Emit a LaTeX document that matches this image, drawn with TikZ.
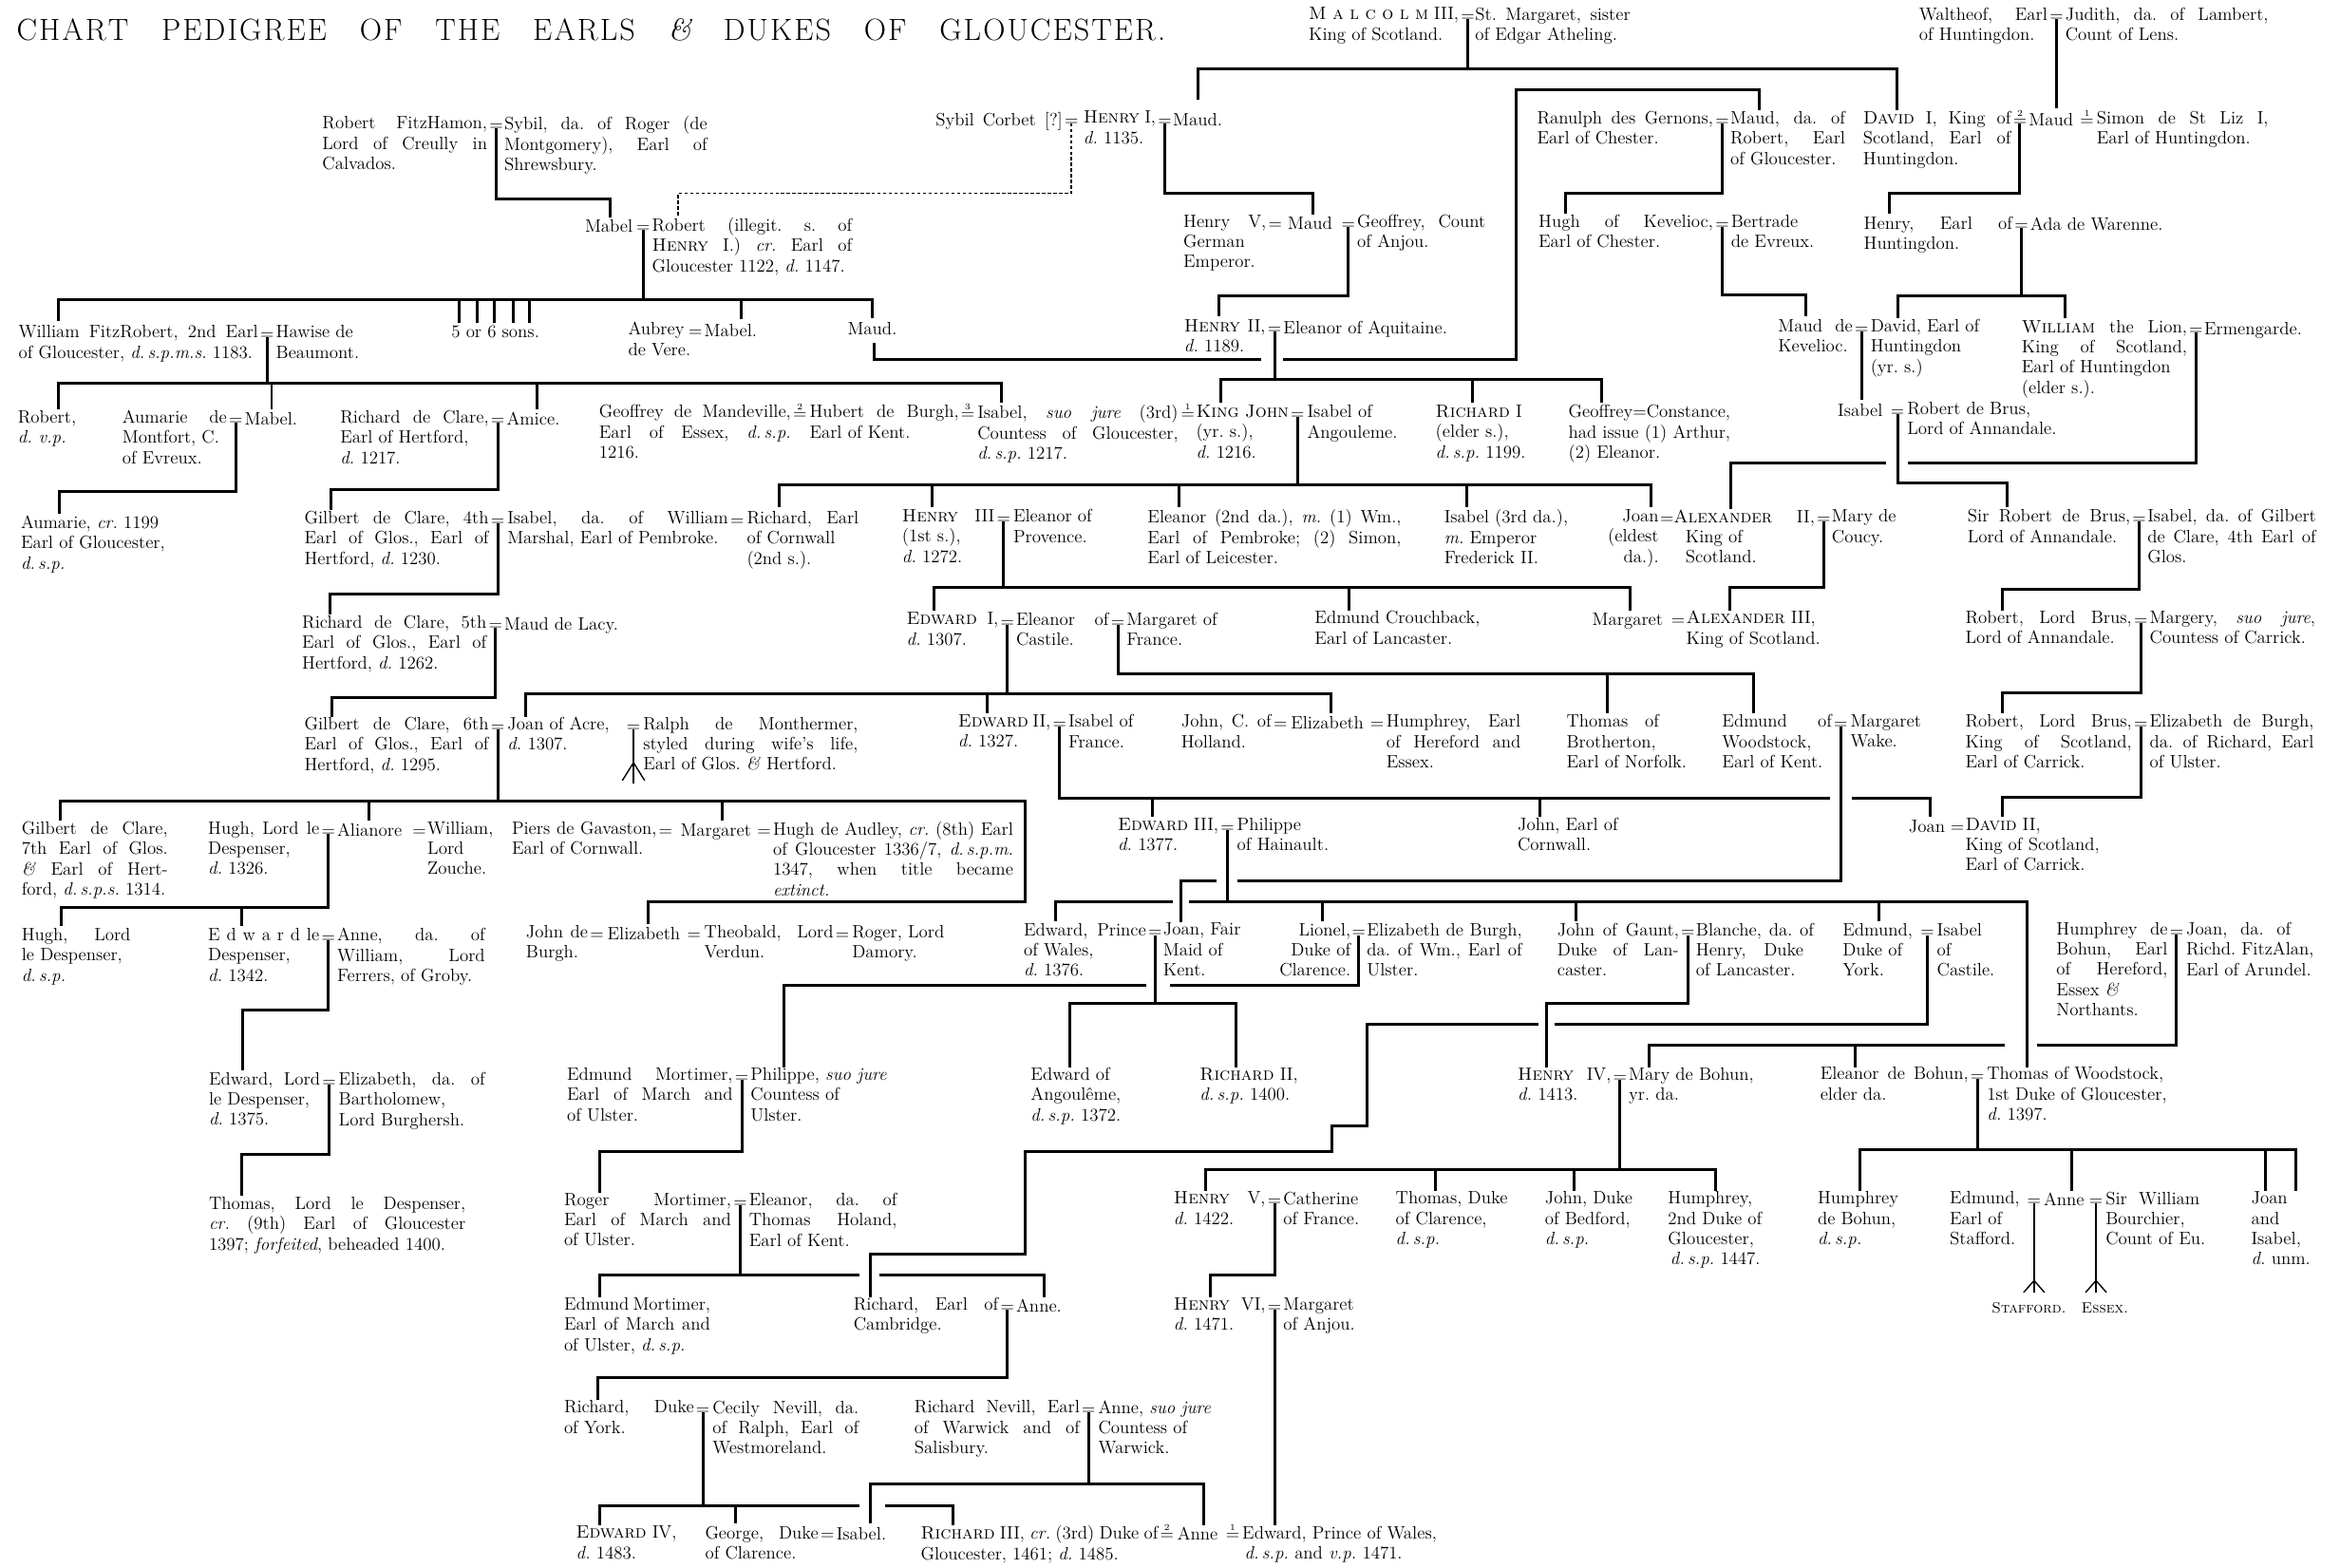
\documentclass[tikz,border=0pt]{standalone}
\newcommand\fs{\fontsize{12}{13.6}\selectfont\frenchspacing}
\newcommand\J[2]{\hbox to #1pt{#2}}
\newcommand\numeq[1]{$\smash{\stackrel{\scriptscriptstyle #1}{=}}$}
\ExplSyntaxOn
\NewDocumentCommand\spaceout{m}{\tl_map_inline:nn{#1}{##1\kern1.3pt}}
\ExplSyntaxOff
\tikzset{
 tx/.style={font=\fs, align=left, inner sep=0pt, outer sep=0pt, anchor=north west, yshift=9.52pt, execute at begin node={\strut}},
 txr/.style={tx, anchor=north east, align=right},
 eq/.style={font=\fs, inner sep=0pt, outer sep=0pt, anchor=base},
 ln/.style={line width=1.9pt},
 dl/.style={line width=1.1pt, dash pattern=on 2.2pt off 1.6pt},
 tn/.style={line width=0.9pt}
}
\begin{document}
\begin{tikzpicture}[x=1pt,y=-1pt]
\fill[white] (0,0) rectangle (1568,1050);
\useasboundingbox (0,0) rectangle (1568,1050);
% title
\node[anchor=base west, inner sep=0pt] (title) at (11,27) {\fontsize{20.5}{24}\selectfont\hbox to 771pt{\spaceout{CHART}\hfill\spaceout{PEDIGREE}\hfill\spaceout{OF}\hfill\spaceout{THE}\hfill\spaceout{EARLS}\hfill\textit{\&}\hfill\spaceout{DUKES}\hfill\spaceout{OF}\hfill\spaceout{GLOUCESTER.}}};
% ---------- row 1
\node[tx] (malL) at (877,14.5) {\J{100.5}{\textsc{M a l c o l m} III,}\\King of Scotland.};
\node[eq] (eMal) at (983.5,14.5) {=};
\node[tx] (malR) at (988.5,14.5) {\J{104}{St. Margaret, sister}\\of Edgar Atheling.};
\node[tx] (walL) at (1286,14.5) {\J{86}{Waltheof, Earl}\\of Huntingdon.};
\node[eq] (eWal) at (1378,14.5) {=};
\node[tx] (walR) at (1384,14.5) {\J{136}{Judith, da. of Lambert,}\\Count of Lens.};
% ---------- row 2
\node[tx] (fhL) at (216,87.5) {\J{110.5}{Robert FitzHamon,}\\\J{110.5}{Lord of Creully in}\\Calvados.};
\node[eq] (eFH) at (332.5,87.5) {=};
\node[tx] (fhR) at (338,87.5) {\J{136}{Sybil, da. of Roger (de}\\\J{136}{Montgomery), Earl of}\\Shrewsbury.};
\node[tx] (sc) at (627,84) {\J{85}{Sybil Corbet [?]}};
\node[eq] (eSC) at (718,84) {=};
\node[tx] (h1) at (726,84) {\J{48.5}{\textsc{Henry} I,}\\\textit{d.} 1135.};
\node[eq] (eH1) at (780.5,84) {=};
\node[tx] (maudA) at (786,84) {Maud.};
\node[tx] (ranL) at (1030,84) {\J{118}{Ranulph des Gernons,}\\Earl of Chester.};
\node[eq] (eRan) at (1154,84) {=};
\node[tx] (ranR) at (1159.5,84) {\J{77}{Maud, da. of}\\\J{77}{Robert, Earl}\\of Gloucester.};
\node[tx] (davL) at (1248.5,84) {\J{99}{\textsc{David} I, King of}\\\J{99}{Scotland, Earl of}\\Huntingdon.};
\node[eq] (eDav) at (1353.5,84) {\numeq{2}};
\node[tx] (maudW) at (1359.5,84) {Maud};
\node[eq] (eSim) at (1398.5,84) {\numeq{1}};
\node[tx] (sim) at (1405,84) {\J{115}{Simon de St Liz I,}\\Earl of Huntingdon.};
% ---------- row 3
\node[tx] (mab1) at (392,155.5) {Mabel};
\node[eq] (eRob) at (431,155.5) {=};
\node[tx] (rob) at (437,155.5) {\J{134}{Robert (illegit. s. of}\\\J{134}{\textsc{Henry} I.) \textit{cr.} Earl of}\\Gloucester 1122, \textit{d.} 1147.};
\node[tx] (h5a) at (793,153.5) {\J{55.5}{Henry V,}\\German\\Emperor.};
\node[eq] (eH5a) at (854.5,153.5) {=};
\node[tx] (maudE) at (863,153.5) {Maud};
\node[eq] (eGeo) at (903.5,153.5) {=};
\node[tx] (geo) at (909.5,153.5) {\J{86}{Geoffrey, Count}\\of Anjou.};
\node[tx] (hkL) at (1031,153.5) {\J{117}{Hugh of Kevelioc,}\\Earl of Chester.};
\node[eq] (eHK) at (1154,153.5) {=};
\node[tx] (hkR) at (1160,153.5) {Bertrade\\de Evreux.};
\node[tx] (hhL) at (1249,154.5) {\J{99.5}{Henry, Earl of}\\Huntingdon.};
\node[eq] (eHH) at (1354.5,154.5) {=};
\node[tx] (hhR) at (1360.5,154.5) {Ada de Warenne.};
% ---------- row 4
\node[tx] (wfL) at (12.5,227.5) {\J{160.5}{William FitzRobert, 2nd Earl}\\of Gloucester, \textit{d.\,s.p.m.s.} 1183.};
\node[eq] (eWF) at (179,227.5) {=};
\node[tx] (wfR) at (185,227.5) {Hawise de\\Beaumont.};
\node[tx] (sons) at (302.5,226.5) {5 or 6 sons.};
\node[tx] (aub) at (421,225.5) {\J{39}{Aubrey}\\de Vere.};
\node[eq] (eAub) at (466,225.5) {=};
\node[tx] (mab3) at (472,225.5) {Mabel.};
\node[tx] (maudR) at (568,224) {Maud.};
\node[tx] (h2) at (793.5,223.5) {\J{54.5}{\textsc{Henry} II,}\\\textit{d.} 1189.};
\node[eq] (eH2) at (854,223.5) {=};
\node[tx] (elAq) at (860,223.5) {Eleanor of Aquitaine.};
\node[tx] (mkL) at (1191.5,223.5) {\J{50}{Maud de}\\Kevelioc.};
\node[eq] (eMK) at (1247.5,223.5) {=};
\node[tx] (mkR) at (1253.5,223.5) {David, Earl of\\Huntingdon\\(yr. s.)};
\node[tx] (wlL) at (1354.75,224) {\J{110.75}{\textsc{William} the Lion,}\\\J{110.75}{King of Scotland,}\\Earl of Huntingdon\\(elder s.).};
\node[eq] (eWL) at (1471.5,224) {=};
\node[tx] (wlR) at (1477,224) {Ermengarde.};
\node[tx] (isB) at (1231.5,279) {Isabel};
\node[eq] (eIB) at (1271.5,279) {=};
\node[tx] (rdb) at (1278,279) {Robert de Brus,\\Lord of Annandale.};
% ---------- row 5
\node[tx] (robvp) at (12,284.5) {Robert,\\\textit{d. v.p.}};
\node[tx] (aumL) at (82,284.5) {\J{70}{Aumarie de}\\Montfort, C.\\of Evreux.};
\node[eq] (eAum) at (158,284.5) {=};
\node[tx] (mab2) at (164,284.5) {Mabel.};
\node[tx] (rcL) at (228,284.5) {\J{99.5}{Richard de Clare,}\\Earl of Hertford,\\\textit{d.} 1217.};
\node[eq] (eRC) at (333.5,284.5) {=};
\node[tx] (amice) at (339.5,284.5) {Amice.};
\node[tx] (gdm) at (401.5,281) {\J{128.5}{Geoffrey de Mandeville,}\\\J{128.5}{Earl of Essex, \textit{d.\,s.p.}}\\1216.};
\node[eq] (eGM) at (536,281) {\numeq{2}};
\node[tx] (hub) at (542.5,281) {\J{100}{Hubert de Burgh,}\\Earl of Kent.};
\node[eq] (eHu) at (648.5,281) {\numeq{3}};
\node[tx] (isG) at (655,281) {\J{134.5}{Isabel, \textit{suo jure} (3rd)}\\\J{134.5}{Countess of Gloucester,}\\\textit{d.\,s.p.} 1217.};
\node[eq] (eIJ) at (796,281) {\numeq{1}};
\node[tx] (kj) at (801.5,281) {\J{62}{\textsc{King John}}\\(yr. s.),\\\textit{d.} 1216.};
\node[eq] (eKJ) at (869.5,281) {=};
\node[tx] (isA) at (876,281) {Isabel of\\Angouleme.};
\node[tx] (r1) at (962,281) {\textsc{Richard} I\\(elder s.),\\\textit{d.\,s.p.} 1199.};
\node[tx] (gc) at (1051,281) {Geoffrey=Constance,\\had issue (1) Arthur,\\(2) Eleanor.};
% ---------- row 6
\node[tx] (aumC) at (14,355) {Aumarie, \textit{cr.} 1199\\Earl of Gloucester,\\\textit{d.\,s.p.}};
\node[tx] (g4L) at (204,352) {\J{123.5}{Gilbert de Clare, 4th}\\\J{123.5}{Earl of Glos., Earl of}\\Hertford, \textit{d.} 1230.};
\node[eq] (eG4) at (333.5,352) {=};
\node[tx] (isM) at (340,352) {\J{148}{Isabel, da. of William}\\Marshal, Earl of Pembroke.};
\node[eq] (eIR) at (494,352) {=};
\node[tx] (rco) at (500.5,352) {\J{75}{Richard, Earl}\\of Cornwall\\(2nd s.).};
\node[tx] (h3) at (604.5,351) {\J{62}{\textsc{Henry} III}\\(1st s.),\\\textit{d.} 1272.};
\node[eq] (eH3) at (672.5,351) {=};
\node[tx] (elP) at (679,351) {Eleanor of\\Provence.};
\node[tx] (el2) at (769,351) {\J{170}{Eleanor (2nd da.), \textit{m.} (1) Wm.,}\\\J{170}{Earl of Pembroke; (2) Simon,}\\Earl of Leicester.};
\node[tx] (is3) at (967.75,351) {Isabel (3rd da.),\\\textit{m.} Emperor\\Frederick II.};
\node[txr] (joanA) at (1111.5,351) {Joan\\(eldest\\da.).};
\node[eq] (eJA) at (1117,351) {=};
\node[tx] (a2) at (1121.5,351) {\J{94.5}{\textsc{Alexander} II,}\\\hspace*{8pt}King of\\\hspace*{8pt}Scotland.};
\node[eq] (eA2) at (1222,351) {=};
\node[tx] (mary) at (1227.5,351) {Mary de\\Coucy.};
\node[tx] (srbL) at (1318.5,351) {\J{109}{Sir Robert de Brus,}\\Lord of Annandale.};
\node[eq] (eSRB) at (1433.5,351) {=};
\node[tx] (srbR) at (1439,351) {\J{113}{Isabel, da. of Gilbert}\\\J{113}{de Clare, 4th Earl of}\\Glos.};
% ---------- row 7
\node[tx] (r5L) at (202.5,422) {\J{123.5}{Richard de Clare, 5th}\\\J{123.5}{Earl of Glos., Earl of}\\Hertford, \textit{d.} 1262.};
\node[eq] (eR5) at (332,422) {=};
\node[tx] (mdl) at (338,422) {Maud de Lacy.};
\node[tx] (e1) at (607.5,420) {\J{61.5}{\textsc{Edward} I,}\\\textit{d.} 1307.};
\node[eq] (eE1) at (675,420) {=};
\node[tx] (elC) at (681,420) {\J{62}{Eleanor of}\\Castile.};
\node[eq] (eE1b) at (749,420) {=};
\node[tx] (mgF) at (755,420) {Margaret of\\France.};
\node[tx] (ecb) at (881,419) {Edmund Crouchback,\\Earl of Lancaster.};
\node[tx] (mgA) at (1067,419) {Margaret};
\node[eq] (eMgA) at (1124.5,419) {=};
\node[tx] (a3) at (1130,419) {\textsc{Alexander} III,\\King of Scotland.};
\node[tx] (rlbL) at (1317,419) {\J{111.5}{Robert, Lord Brus,}\\Lord of Annandale.};
\node[eq] (eRLB) at (1434.5,419) {=};
\node[tx] (rlbR) at (1440.5,419) {\J{111}{Margery, \textit{suo jure},}\\Countess of Carrick.};
% ---------- row 8
\node[tx] (g6L) at (204,490) {\J{123.5}{Gilbert de Clare, 6th}\\\J{123.5}{Earl of Glos., Earl of}\\Hertford, \textit{d.} 1295.};
\node[eq] (eG6) at (333.5,490) {=};
\node[tx] (joA) at (340,490) {Joan of Acre,\\\textit{d.} 1307.};
\node[eq] (eRal) at (424.5,490) {=};
\node[tx] (ral) at (431,490) {\J{144}{Ralph de Monthermer,}\\\J{144}{styled during wife's life,}\\Earl of Glos. \textit{\&} Hertford.};
\node[tx] (e2) at (642,488.5) {\J{62}{\textsc{Edward} II,}\\\textit{d.} 1327.};
\node[eq] (eE2) at (710,488.5) {=};
\node[tx] (isF) at (716,488.5) {Isabel of\\France.};
\node[tx] (jch) at (791.5,488.5) {\J{60.5}{John, C. of}\\Holland.};
\node[eq] (eJC) at (858,488.5) {=};
\node[tx] (elH) at (865,488.5) {Elizabeth};
\node[eq] (eEH) at (922.75,488.5) {=};
\node[tx] (humH) at (929,488.5) {\J{90}{Humphrey, Earl}\\\J{90}{of Hereford and}\\Essex.};
\node[tx] (tob) at (1049.75,488.5) {\J{62}{Thomas of}\\Brotherton,\\Earl of Norfolk.};
\node[tx] (eow) at (1154,488.5) {\J{73.5}{Edmund of}\\Woodstock,\\Earl of Kent.};
\node[eq] (eEW) at (1233.5,488.5) {=};
\node[tx] (mw) at (1240,488.5) {Margaret\\Wake.};
\node[tx] (rkL) at (1317,488.5) {\J{111.5}{Robert, Lord Brus,}\\\J{111.5}{King of Scotland,}\\Earl of Carrick.};
\node[eq] (eRK) at (1434.5,488.5) {=};
\node[tx] (rkR) at (1440.5,488.5) {\J{110}{Elizabeth de Burgh,}\\\J{110}{da. of Richard, Earl}\\of Ulster.};
% ---------- row 9
\node[tx] (g7) at (14.5,560) {\J{98}{Gilbert de Clare,}\\\J{98}{7th Earl of Glos.}\\\J{98}{\textit{\&} Earl of Hert-}\\ford, \textit{d.\,s.p.s.} 1314.};
\node[tx] (hdL) at (139.5,560) {\J{74.5}{Hugh, Lord le}\\Despenser,\\\textit{d.} 1326.};
\node[eq] (eHD) at (220,560) {=};
\node[tx] (ali) at (226,560) {\J{49}{Alianore}};
\node[eq] (eAZ) at (281,560) {=};
\node[tx] (wz) at (286.5,560) {William,\\Lord\\Zouche.};
\node[tx] (pgL) at (343,560) {\J{97}{Piers de Gavaston,}\\Earl of Cornwall.};
\node[eq] (ePG) at (446,560) {=};
\node[tx] (mgG) at (456,560) {\J{50}{Margaret}};
\node[eq] (eMA) at (512,560) {=};
\node[tx] (hda) at (518,560) {\J{161}{Hugh de Audley, \textit{cr.} (8th) Earl}\\\J{161}{of Gloucester 1336/7, \textit{d.\,s.p.m.}}\\\J{161}{1347, when title became}\\\textit{extinct.}};
\node[tx] (e3) at (749,557.5) {\J{67.5}{\textsc{Edward} III,}\\\textit{d.} 1377.};
\node[eq] (eE3) at (822.5,557.5) {=};
\node[tx] (phH) at (829,557.5) {Philippe\\of Hainault.};
\node[tx] (jcw) at (1017,557.5) {John, Earl of\\Cornwall.};
\node[tx] (joD) at (1279,557.5) {Joan};
\node[eq] (eJD) at (1311.5,557.5) {=};
\node[tx] (d2) at (1317,557.5) {\textsc{David} II,\\King of Scotland,\\Earl of Carrick.};
% ---------- row 10
\node[tx] (hld) at (14.5,631.5) {\J{73}{Hugh, Lord}\\le Despenser,\\\textit{d.\,s.p.}};
\node[tx] (eldL) at (139.5,631.5) {\J{74.5}{E d w a r d le}\\Despenser,\\\textit{d.} 1342.};
\node[eq] (eED) at (220,631.5) {=};
\node[tx] (anW) at (226,631.5) {\J{99}{Anne, da. of}\\\J{99}{William, Lord}\\Ferrers, of Groby.};
\node[tx] (jdb) at (352.5,629.5) {\J{41.5}{John de}\\Burgh.};
\node[eq] (eJE) at (400,629.5) {=};
\node[tx] (elz) at (407,629.5) {\J{52}{Elizabeth}};
\node[eq] (eET) at (465,629.5) {=};
\node[tx] (thb) at (472,629.5) {\J{86.5}{Theobald, Lord}\\Verdun.};
\node[eq] (eTR) at (564.5,629.5) {=};
\node[tx] (rog) at (571,629.5) {Roger, Lord\\Damory.};
\node[tx] (epw) at (686,628) {\J{82}{Edward, Prince}\\of Wales,\\\textit{d.} 1376.};
\node[eq] (eEP) at (774,628) {=};
\node[tx] (jfm) at (779.5,628) {Joan, Fair\\Maid of\\Kent.};
\node[txr] (lio) at (905,628) {Lionel,\\Duke of\\Clarence.};
\node[eq] (eLio) at (910.5,628) {=};
\node[tx] (ebL) at (916,628) {\J{104}{Elizabeth de Burgh,}\\\J{104}{da. of Wm., Earl of}\\Ulster.};
\node[tx] (jogL) at (1043.5,628) {\J{81.5}{John of Gaunt,}\\\J{81.5}{Duke of Lan-}\\caster.};
\node[eq] (eJG) at (1131,628) {=};
\node[tx] (bla) at (1136.5,628) {\J{79}{Blanche, da. of}\\\J{72}{Henry, Duke}\\of Lancaster.};
\node[tx] (eyL) at (1234.75,628) {\J{50.75}{Edmund,}\\Duke of\\York.};
\node[eq] (eEY) at (1291.5,628) {=};
\node[tx] (isC) at (1298,628) {Isabel\\of\\Castile.};
\node[tx] (hbL) at (1378,627.5) {\J{74.5}{Humphrey de}\\\J{74.5}{Bohun, Earl}\\\J{74.5}{of Hereford,}\\Essex \textit{\&}\\Northants.};
\node[eq] (eHB) at (1458.5,627.5) {=};
\node[tx] (jRA) at (1465,627.5) {\J{70}{Joan, da. of}\\Richd. FitzAlan,\\Earl of Arundel.};
% ---------- row 11
\node[tx] (eldL2) at (140,728) {\J{74.5}{Edward, Lord}\\le Despenser,\\\textit{d.} 1375.};
\node[eq] (eELD) at (220.5,728) {=};
\node[tx] (elzB) at (227,728) {\J{98}{Elizabeth, da. of}\\Bartholomew,\\Lord Burghersh.};
\node[tx] (emL) at (380,725) {\J{111}{Edmund Mortimer,}\\\J{111}{Earl of March and}\\of Ulster.};
\node[eq] (eEM) at (497,725) {=};
\node[tx] (phU) at (503,725) {Philippe, \textit{suo jure}\\Countess of\\Ulster.};
\node[tx] (eoa) at (690.75,725) {Edward of\\Angoulême,\\\textit{d.\,s.p.} 1372.};
\node[tx] (r2) at (804,725) {\textsc{Richard} II,\\\textit{d.\,s.p.} 1400.};
\node[tx] (h4) at (1017,725) {\J{62.5}{\textsc{Henry} IV,}\\\textit{d.} 1413.};
\node[eq] (eH4) at (1085.5,725) {=};
\node[tx] (mdb) at (1091.5,725) {Mary de Bohun,\\yr. da.};
\node[tx] (edb) at (1219.75,724.5) {\J{99.25}{Eleanor de Bohun,}\\elder da.};
\node[eq] (eEB) at (1325,724.5) {=};
\node[tx] (tow) at (1331.5,724.5) {Thomas of Woodstock,\\1st Duke of Gloucester,\\\textit{d.} 1397.};
% ---------- row 12
\node[tx] (tld) at (140,811.5) {\J{172}{Thomas, Lord le Despenser,}\\\J{172}{\textit{cr.} (9th) Earl of Gloucester}\\1397; \textit{forfeited}, beheaded 1400.};
\node[tx] (rmL) at (378,809) {\J{112}{Roger Mortimer,}\\\J{112}{Earl of March and}\\of Ulster.};
\node[eq] (eRM) at (496,809) {=};
\node[tx] (elTH) at (502,809) {\J{99}{Eleanor, da. of}\\\J{99}{Thomas Holand,}\\Earl of Kent.};
\node[tx] (h5b) at (786.5,808) {\J{61.5}{\textsc{Henry} V,}\\\textit{d.} 1422.};
\node[eq] (eH5) at (854,808) {=};
\node[tx] (cat) at (860,808) {Catherine\\of France.};
\node[tx] (tdc) at (935.25,808) {Thomas, Duke\\of Clarence,\\\textit{d.\,s.p.}};
\node[tx] (jdbd) at (1035.25,808) {John, Duke\\of Bedford,\\\textit{d.\,s.p.}};
\node[tx] (hdg) at (1117.75,808) {Humphrey,\\2nd Duke of\\Gloucester,\\\hspace*{1.5pt}\textit{d.\,s.p.} 1447.};
\node[tx] (hdb) at (1218,808) {Humphrey\\de Bohun,\\\textit{d.\,s.p.}};
\node[tx] (est) at (1306.5,808) {\J{50.5}{Edmund,}\\Earl of\\Stafford.};
\node[eq] (eSt) at (1363,808) {=};
\node[tx] (anS) at (1369.5,808) {\J{29}{Anne}};
\node[eq] (eEs) at (1404.5,808) {=};
\node[tx] (swb) at (1411,808) {\J{63}{Sir William}\\Bourchier,\\Count of Eu.};
\node[tx] (jai) at (1508.5,808) {Joan\\and\\Isabel,\\\textit{d.} unm.};
\node[anchor=base west, inner sep=0pt, font=\fontsize{10}{12}\selectfont] (stf) at (1334.5,879.5) {\textsc{Stafford.}};
\node[anchor=base west, inner sep=0pt, font=\fontsize{10}{12}\selectfont] (esx) at (1394.5,879.5) {\textsc{Essex.}};
% ---------- row 13
\node[tx] (emd) at (378,879) {\J{98}{Edmund Mortimer,}\\\J{98}{Earl of March and}\\of Ulster, \textit{d.\,s.p.}};
\node[tx] (rcaL) at (572,879) {\J{97}{Richard, Earl of}\\Cambridge.};
\node[eq] (eRCa) at (675,879) {=};
\node[tx] (anC) at (681,879) {Anne.};
\node[tx] (h6) at (786.5,879) {\J{61.5}{\textsc{Henry} VI,}\\\textit{d.} 1471.};
\node[eq] (eH6) at (854,879) {=};
\node[tx] (maA) at (860,879) {Margaret\\of Anjou.};
% ---------- row 14
\node[tx] (rdyL) at (378,948) {\J{87}{Richard, Duke}\\of York.};
\node[eq] (eRDY) at (471,948) {=};
\node[tx] (cec) at (477.5,948) {\J{98}{Cecily Nevill, da.}\\\J{98}{of Ralph, Earl of}\\Westmoreland.};
\node[tx] (rnL) at (612.75,948) {\J{110.75}{Richard Nevill, Earl}\\\J{110.75}{of Warwick and of}\\Salisbury.};
\node[eq] (eRN) at (729.5,948) {=};
\node[tx] (anW2) at (736,948) {Anne, \textit{suo jure}\\Countess of\\Warwick.};
% ---------- row 15
\node[tx] (e4) at (386,1032) {\textsc{Edward} IV,\\\textit{d.} 1483.};
\node[tx] (geoC) at (472.5,1032) {\J{76}{George, Duke}\\of Clarence.};
\node[eq] (eGI) at (554.5,1032) {=};
\node[tx] (isN) at (560.5,1032) {Isabel.};
\node[tx] (r3) at (617,1032) {\J{159}{\textsc{Richard} III, \textit{cr.} (3rd) Duke of}\\Gloucester, 1461; \textit{d.} 1485.};
\node[eq] (eR3) at (782,1032) {\numeq{2}};
\node[tx] (anR) at (789,1032) {\J{31}{Anne}};
\node[eq] (eAE) at (826,1032) {\numeq{1}};
\node[tx] (epw2) at (832.5,1032) {Edward, Prince of Wales,\\\hspace*{1.5pt}\textit{d.\,s.p.} and \textit{v.p.} 1471.};

% ================= connectors
\draw[ln] ([yshift=1.5pt]eMal.base) -- (983.5,46);
\draw[ln] (803,67) -- (803,46) -- (1271,46) -- (1271,74);
\draw[ln] ([yshift=1.5pt]eWal.base) -- (1378,72.5);
\draw[ln] ([yshift=1.5pt]eFH.base) -- (332.5,133) -- (409,133) -- (409,146);
\draw[dl] ([yshift=1.5pt]eSC.base) -- (718,129.5) -- (454.5,129.5) -- (454.5,145);
\draw[ln] ([yshift=1.5pt]eH1.base) -- (780.5,129.5) -- (880,129.5) -- (880,144);
\draw[ln] ([yshift=1.5pt]eRan.base) -- (1154,129.5) -- (1049,129.5) -- (1049,143);
\draw[ln] (586,230) -- (586,241) -- (845,241);
\draw[ln] (860,241) -- (1016,241) -- (1016,60) -- (1179,60) -- (1179,74);
\draw[ln] ([yshift=1.5pt]eDav.base) -- (1353.5,129.5) -- (1266,129.5) -- (1266,143);
% Robert of Gloucester
\draw[ln] ([yshift=1.5pt]eRob.base) -- (431,201);
\draw[ln] (39,215) -- (39,201) -- (584.5,201) -- (584.5,213);
\foreach \x in {307.5,319.5,331,344,355} \draw[ln] (\x,201) -- (\x,216.5);
\draw[ln] (496.5,201) -- (496.5,214);
\draw[ln] ([yshift=1.5pt]eGeo.base) -- (903.5,198) -- (816.5,198) -- (816.5,212);
\draw[ln] ([yshift=1.5pt]eHK.base) -- (1154,197.5) -- (1210,197.5) -- (1210,212);
\draw[ln] ([yshift=1.5pt]eHH.base) -- (1354.5,198);
\draw[ln] (1272,213) -- (1272,198) -- (1383.5,198) -- (1383.5,213);
% William FitzRobert
\draw[ln] ([yshift=1.5pt]eWF.base) -- (179,257);
\draw[ln] (39,274) -- (39,257) -- (671,257) -- (671,270);
\draw[ln] (182,257) -- (182,274);
\draw[ln] (360,257) -- (360,274);
% Henry II
\draw[ln] ([yshift=1.5pt]eH2.base) -- (854,254.5);
\draw[ln] (818,270) -- (818,254.5) -- (1073.5,254.5) -- (1073.5,270);
\draw[ln] (986.5,254.5) -- (986.5,270);
\draw[ln] ([yshift=1.5pt]eMK.base) -- (1247.5,268);
\draw[ln] ([yshift=1.5pt]eWL.base) -- (1471.5,310) -- (1278.5,310);
\draw[ln] (1263.5,310) -- (1159.5,310) -- (1159.5,341);
\draw[ln] ([yshift=1.5pt]eIB.base) -- (1271.5,323.7) -- (1345,323.7) -- (1345,340);
\draw[ln] ([yshift=1.5pt]eAum.base) -- (158,329) -- (39.5,329) -- (39.5,344);
\draw[ln] ([yshift=1.5pt]eRC.base) -- (333.5,328) -- (222,328) -- (222,341.5);
% King John
\draw[ln] ([yshift=1.5pt]eKJ.base) -- (869.5,325);
\draw[ln] (522,340) -- (522,325) -- (1106.5,325) -- (1106.5,340);
\foreach \x in {624.5,790,983} \draw[ln] (\x,325) -- (\x,340);
\draw[ln] ([yshift=1.5pt]eG4.base) -- (333.5,398) -- (221,398) -- (221,412);
% Henry III
\draw[ln] ([yshift=1.5pt]eH3.base) -- (672.5,393.5);
\draw[ln] (626,409) -- (626,393.5) -- (1092,393.5) -- (1092,409);
\draw[ln] (904,393.5) -- (904,409);
\draw[ln] ([yshift=1.5pt]eA2.base) -- (1222,393.5) -- (1159,393.5) -- (1159,409);
\draw[ln] ([yshift=1.5pt]eSRB.base) -- (1433.5,394.6) -- (1342,394.6) -- (1342,409);
\draw[ln] ([yshift=1.5pt]eR5.base) -- (332,467.6) -- (222.5,467.6) -- (222.5,480.5);
% Edward I
\draw[ln] ([yshift=1.5pt]eE1.base) -- (675,465);
\draw[ln] (352.5,480.5) -- (352.5,465) -- (892,465) -- (892,478);
\draw[ln] (661.5,465) -- (661.5,478);
\draw[ln] ([yshift=1.5pt]eE1b.base) -- (749,451.5) -- (1175,451.5) -- (1175,478);
\draw[ln] (1077,451.5) -- (1077,478);
\draw[ln] ([yshift=1.5pt]eRLB.base) -- (1434.5,464) -- (1342,464) -- (1342,478);
% Gilbert 6th
\draw[ln] ([yshift=1.5pt]eG6.base) -- (333.5,537);
\draw[ln] (40.5,550) -- (40.5,537) -- (687,537) -- (687,604.5) -- (434.5,604.5) -- (434.5,619);
\draw[ln] (247.5,537) -- (247.5,550);
\draw[ln] (484,537) -- (484,550);
\draw[tn] ([yshift=1.5pt]eRal.base) -- (424.5,525);
\draw[tn] (417,523) -- (424.5,511) -- (432,523);
% Edward II
\draw[ln] ([yshift=1.5pt]eE2.base) -- (710,535) -- (1226,535);
\draw[ln] (1241,535) -- (1293.5,535) -- (1293.5,547);
\draw[ln] (772.5,535) -- (772.5,547);
\draw[ln] (1032,535) -- (1032,547);
\draw[ln] ([yshift=1.5pt]eEW.base) -- (1233.5,590) -- (829,590);
\draw[ln] (815,590) -- (791.5,590) -- (791.5,618);
\draw[ln] ([yshift=1.5pt]eRK.base) -- (1434.5,534) -- (1342,534) -- (1342,547);
\draw[ln] ([yshift=1.5pt]eHD.base) -- (220,608) -- (41,608) -- (41,620.5);
\draw[ln] (162,608) -- (162,620.5);
% Edward III
\draw[ln] ([yshift=1.5pt]eE3.base) -- (822.5,604);
\draw[ln] (707.5,617) -- (707.5,604) -- (786,604);
\draw[ln] (797,604) -- (1358.5,604) -- (1358.5,715);
\foreach \x in {886,1056,1259} \draw[ln] (\x,604) -- (\x,617.5);
\draw[ln] ([yshift=1.5pt]eED.base) -- (220,677) -- (162.5,677) -- (162.5,717);
\draw[ln] ([yshift=1.5pt]eEP.base) -- (774,672.5);
\draw[ln] (717,715) -- (717,672.5) -- (828,672.5) -- (828,715);
\draw[ln] ([yshift=1.5pt]eLio.base) -- (910.5,660) -- (784,660);
\draw[ln] (768,660) -- (525,660) -- (525,715);
\draw[ln] ([yshift=1.5pt]eJG.base) -- (1131,672.5) -- (1036.5,672.5) -- (1036.5,715);
\draw[ln] ([yshift=1.5pt]eEY.base) -- (1291.5,686) -- (1042,686);
\draw[ln] (1031,686) -- (916,686) -- (916,754.7) -- (892.75,754.7) -- (892.75,771.4) -- (687,771.4) -- (687,840) -- (583,840) -- (583,869);
\draw[ln] ([yshift=1.5pt]eHB.base) -- (1458.5,700) -- (1365,700);
\draw[ln] (1343.5,700) -- (1105,700) -- (1105,715);
\draw[ln] (1243,700) -- (1243,715);
\draw[ln] ([yshift=1.5pt]eELD.base) -- (220.5,773.7) -- (162,773.7) -- (162,801);
\draw[ln] ([yshift=1.5pt]eEM.base) -- (497,771.4) -- (402,771.4) -- (402,799.5);
% Henry IV
\draw[ln] ([yshift=1.5pt]eH4.base) -- (1085.5,783.7);
\draw[ln] (807.75,798) -- (807.75,783.7) -- (1149.5,783.7) -- (1149.5,798);
\foreach \x in {962,1055} \draw[ln] (\x,783.7) -- (\x,798);
% Thomas of Woodstock
\draw[ln] ([yshift=1.5pt]eEB.base) -- (1325,770);
\draw[ln] (1246,798) -- (1246,770) -- (1538.5,770) -- (1538.5,798);
\foreach \x in {1388.5,1518} \draw[ln] (\x,770) -- (\x,798);
% Roger Mortimer
\draw[ln] ([yshift=1.5pt]eRM.base) -- (496,854);
\draw[ln] (402,869) -- (402,854) -- (575.75,854);
\draw[ln] (589.5,854) -- (699.5,854) -- (699.5,869);
\draw[ln] ([yshift=1.5pt]eH5.base) -- (854,854) -- (811,854) -- (811,869);
% Stafford / Essex
\draw[tn] ([yshift=1.5pt]eSt.base) -- (1363,866);
\draw[tn] (1356,866) -- (1363,858) -- (1370,866);
\draw[tn] ([yshift=1.5pt]eEs.base) -- (1404.5,866);
\draw[tn] (1397.5,866) -- (1404.5,858) -- (1411.5,866);
\draw[ln] ([yshift=1.5pt]eRCa.base) -- (675,923) -- (400.75,923) -- (400.75,938);
\draw[ln] ([yshift=1.5pt]eH6.base) -- (854,1022);
% Richard Duke of York
\draw[ln] ([yshift=1.5pt]eRDY.base) -- (471,1009);
\draw[ln] (402,1022) -- (402,1009) -- (575.75,1009);
\draw[ln] (593,1009) -- (638.5,1009) -- (638.5,1022);
\draw[ln] (493,1009) -- (493,1021);
% Richard Nevill
\draw[ln] ([yshift=1.5pt]eRN.base) -- (729.5,994.6);
\draw[ln] (583,1021) -- (583,994.6) -- (806.5,994.6) -- (806.5,1022);
\end{tikzpicture}
\end{document}
